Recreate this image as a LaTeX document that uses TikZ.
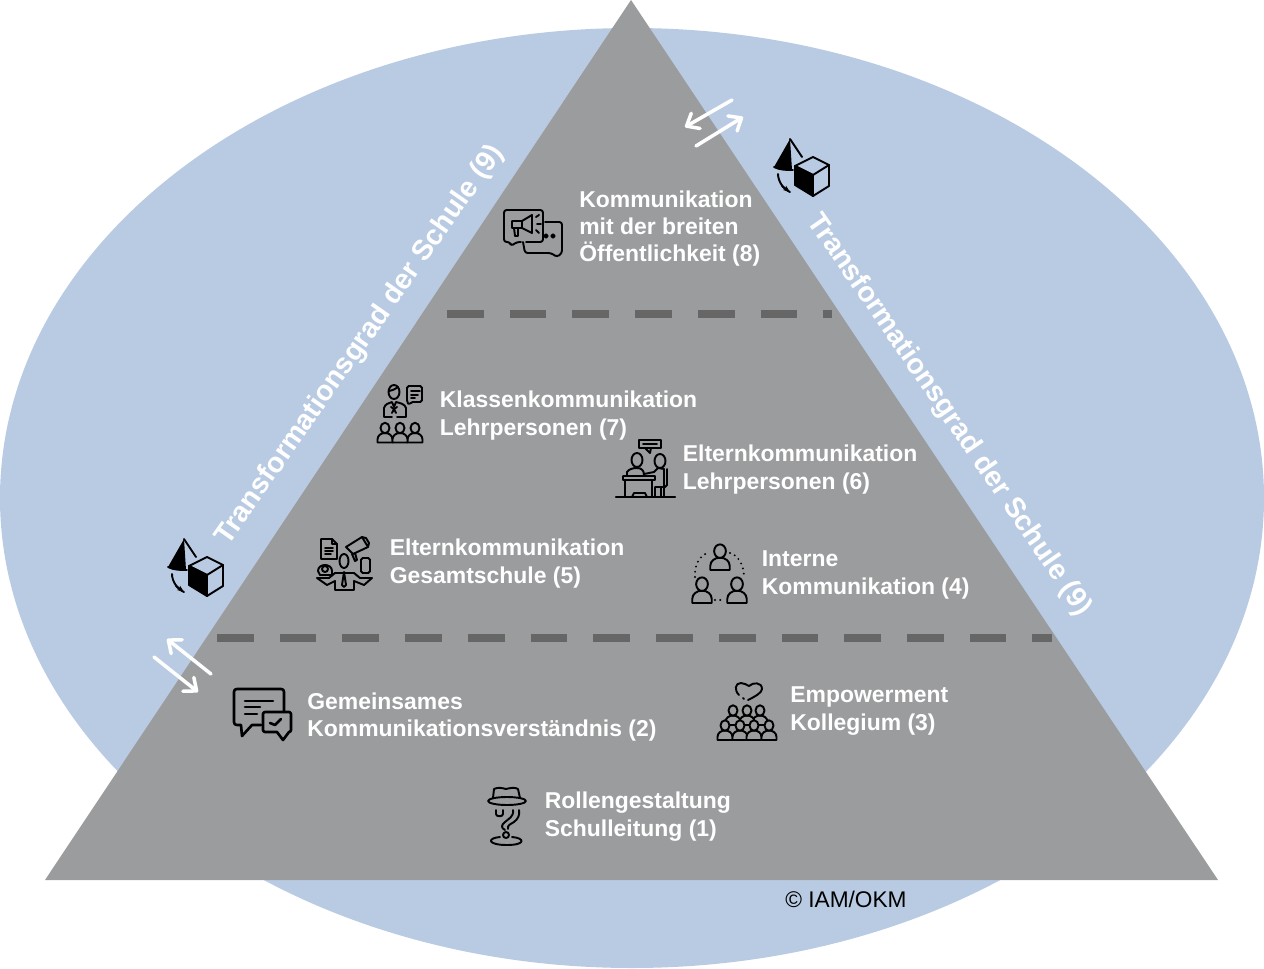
\documentclass[tikz,border=0pt]{standalone}
\usepackage{fontspec}
\setmainfont{Liberation Sans}
\usetikzlibrary{arrows.meta}
\definecolor{oval}{HTML}{B9CBE3}
\definecolor{pyramid}{HTML}{9B9C9E}
\definecolor{dashgray}{HTML}{666666}
\tikzset{
  label text/.style={text=white, font=\bfseries\fontsize{13.05}{15.6}\selectfont, align=left, anchor=west, inner sep=0pt},
  side text/.style={text=white, font=\bfseries\fontsize{16.2}{18}\selectfont, inner sep=0pt},
  level line/.style={dashgray, line width=4.6pt, dash pattern=on 20.9pt off 14.8pt},
  swap arrow/.style={white, line width=2pt, line cap=round, -{Straight Barb[length=6pt,width=10pt,round]}},
  icon/.style={draw=black, line width=1.1pt, line cap=round, line join=round},
  pics/bust/.style={code={
    \draw[icon,fill=pyramid] (-7.5,0) -- (-7.5,-3) .. controls (-7.5,-7) and (-4,-9.5) .. (0,-9.5)
      .. controls (4,-9.5) and (7.5,-7) .. (7.5,-3) -- (7.5,0) -- cycle;
    \draw[icon,fill=pyramid] (0,-14.5) circle [x radius=4.5, y radius=5.2];
  }},
  pics/shapes/.style={code={
    \fill (-12,-28) -- (-28,0) .. controls (-22,3) and (-16,3) .. (-10,3) -- cycle;
    \draw[icon] (-12,-28) -- (0,-10) (-28,0) .. controls (-22,3) and (-16,3) .. (-9,3) (-24,7) .. controls (-24,14) and (-19,22) .. (-12,25);
    \draw[icon,-{Stealth[length=4pt]}] (-20,19) -- (-12,25);
    \draw[icon] (11,-10) -- (27,-2) -- (27,19) -- (11,29) -- (11,8) -- (27,-2) (11,8) -- (-7,-1) -- (11,-10);
    \draw[icon,fill=black] (-7,-1) -- (11,8) -- (11,29) -- (-7,18) -- cycle;
  }},
  pics/megaphone/.style={code={
    \draw[icon,rounded corners=1.5pt] (-12,8) -- (-16,8) -- (-22,12) -- (-23,8) -- (-29,8) -- (-29,-24) -- (10,-24) -- (10,8) -- (-7,8);
    \draw[icon,rounded corners=1.5pt] (12,-12) -- (29,-12) -- (29,19) -- (24,23) -- (18,19) -- (-8,19) -- (-10,8);
    \draw[icon] (13,2) circle [radius=1.7] (20,2) circle [radius=1.7];
    \draw[icon] (-21,-13) -- (-11,-13) -- (-1,-19) -- (-1,-1) -- (-11,-6) -- (-21,-6) -- cycle;
    \draw[icon] (-19,-6) -- (-18,2) -- (-15,2) -- (-15,-6) (-11,-13) -- (-11,-6);
    \draw[icon] (3,-17) -- (6,-19) (4,-10) -- (8,-10) (3,-4) -- (6,-1);
  }},
  pics/teacher/.style={code={
    \draw[icon] (-6,-22) circle [x radius=5.5, y radius=7];
    \draw[icon] (-11,-23) .. controls (-7,-24) and (-4,-25) .. (-2,-27);
    \draw[icon] (-8,3) -- (-16,3) -- (-16,-6) .. controls (-15,-10) and (-11,-11) .. (-8,-12)
      -- (-6,-7) -- (-4,-12) .. controls (0,-11) and (5,-10) .. (6,-6) -- (6,3) -- (-3,3);
    \draw[icon] (-9,-7) -- (-6,-5) -- (-3,-7) (-6,-5) -- (-8,-1) (-6,-5) -- (-4,-1);
    \draw[icon,rounded corners=1pt] (7,-28) -- (22,-28) -- (22,-12) -- (11,-12) -- (9,-9) -- (7,-12) -- cycle;
    \draw[icon] (11,-23) -- (20,-23) (11,-19) -- (18,-19) (11,-16) -- (15,-16);
    \pic at (-15,28.5) {bust};
    \pic at (15,28.5) {bust};
    \pic at (0,28.5) {bust};
  }},
  pics/desk/.style={code={
    \draw[icon,line width=1.3pt] (-29,27) -- (30,27);
    \draw[icon] (-6,-30) rectangle (16,-22) (-2,-26) -- (12,-26);
    \draw[icon] (0,-22) -- (5,-17) -- (6,-22);
    \draw[icon] (-8,-10) circle [x radius=5.5, y radius=7] (15,-9) circle [x radius=5.5, y radius=7];
    \draw[icon] (-18,6) -- (-18,2) .. controls (-16,-1) and (-12,-2) .. (-8,-2) .. controls (-4,-2) and (-1,0) .. (-1,5);
    \draw[icon] (-1,4) -- (9,2) -- (13,-2) -- (19,-1) -- (19,17) -- (10,17) -- (10,27) (16,17) -- (16,27) (19,17) -- (19,27);
    \draw[icon] (22,-1) -- (22,15) -- (19,18);
    \draw[icon] (-22,6) rectangle (10,10) (-20,10) -- (-20,27) (7,10) -- (7,27) (-13,27) -- (-11,23) -- (0,23) -- (2,27);
  }},
  pics/office/.style={code={
    \draw[icon] (-23,-24) -- (-12,-24) -- (-7,-19) -- (-7,-4) -- (-23,-4) -- cycle (-12,-24) -- (-12,-19) -- (-7,-19);
    \draw[icon] (-19,-15) -- (-11,-15) (-19,-12) -- (-11,-12) (-19,-9) -- (-13,-9);
    \draw[icon] (2,-16) -- (18,-26) -- (24,-16) -- (9,-9) -- cycle (18,-26) -- (22,-25) -- (25,-20) -- (24,-16) (8,-9) -- (11,-2) -- (13,-3) -- (11,-10);
    \draw[icon,rounded corners=1pt] (17,-5) rectangle (26,10);
    \draw[icon] (0,-2) circle [x radius=4.5, y radius=7];
    \draw[icon] (-19,6) circle [radius=3];
    \draw[icon] (-26,8) .. controls (-26,0) and (-12,0) .. (-12,8) -- (-12,12) -- (-24,12) -- cycle;
    \draw[icon] (-27,15) -- (-15,15) -- (-9,10) -- (10,10) -- (16,15) -- (28,15) -- (20,22) -- (10,18) -- (10,27) -- (-9,27) -- (-9,18) -- (-17,22) -- cycle;
    \draw[icon] (0,9) -- (-2,22) -- (0,24) -- (2,22) -- cycle;
  }},
  pics/circle team/.style={code={
    \pic[scale=1.3] at (0,-8) {bust};
    \pic[scale=1.3] at (-18,25) {bust};
    \pic[scale=1.3] at (17,25) {bust};
    \draw[icon,line width=1.2pt,dash pattern=on 0pt off 3pt] (-25,-1) .. controls (-26,-13) and (-20,-23) .. (-12,-25);
    \draw[icon,line width=1.2pt,dash pattern=on 0pt off 3pt] (10,-25) .. controls (18,-23) and (24,-13) .. (24,-1);
    \draw[icon,line width=1.2pt,dash pattern=on 0pt off 3pt] (-5,22) -- (5,22);
  }},
  pics/chat check/.style={code={
    \draw[icon,line width=1.5pt] (-1,11) -- (-10,11) -- (-20,22) -- (-21,11) -- (-25,11)
      .. controls (-27,11) and (-28,10) .. (-28,8) -- (-28,-22) .. controls (-28,-24) and (-27,-25) .. (-25,-25)
      -- (19,-25) .. controls (21,-25) and (22,-24) .. (22,-22) -- (22,-2);
    \draw[icon,line width=1.5pt] (-17,-13) -- (11,-13) (-17,-7) -- (-2,-7) (-17,0) -- (-5,0);
    \draw[icon,line width=1.5pt] (3,-2) -- (27,-2) .. controls (28,-2) and (29,-1) .. (29,0) -- (29,16)
      .. controls (29,17) and (28,18) .. (27,18) -- (21,26) -- (15,18) -- (3,18) .. controls (2,18) and (1,17) .. (1,16)
      -- (1,0) .. controls (1,-1) and (2,-2) .. (3,-2);
    \draw[icon,line width=1.5pt] (8,9) -- (13,11) -- (19,5);
  }},
  pics/hat/.style={code={
    \draw[icon] (-14,-18) -- (-13,-27) .. controls (-9,-29) and (-5,-28) .. (-1,-27) .. controls (3,-28) and (8,-29) .. (11,-27) -- (13,-18);
    \draw[icon] (0,-15) ellipse [x radius=19, y radius=4];
    \draw[icon] (-11,-6) -- (-11,-2) .. controls (-11,1) and (-4,1) .. (-4,-2) -- (-4,-6);
    \draw[icon] (6,-6) .. controls (7,1) and (1,3) .. (-2,6) .. controls (-6,9) and (-6,12) .. (-2,14)
      (1,13) .. controls (0,9) and (4,8) .. (7,6) .. controls (11,3) and (13,-1) .. (12,-6);
    \draw[icon] (-1,19) circle [radius=3];
    \draw[icon] (-7,21) .. controls (-20,22) and (-20,29) .. (0,29) .. controls (19,29) and (18,22) .. (5,21);
  }},
  pics/crowd/.style={code={
    \draw[icon] (-8,-17) .. controls (-13,-22) and (-12,-29) .. (-6,-29) .. controls (-3,-29) and (0,-27) .. (2,-26)
      .. controls (6,-30) and (15,-30) .. (15,-23) .. controls (15,-19) and (7,-15) .. (1,-12);
    \draw[icon] (-4,-14) -- (-3,-13);
    \pic at (-14,13) {bust};
    \pic at (13,13) {bust};
    \pic at (0,13) {bust};
    \pic at (-22,28) {bust};
    \pic at (-7,28) {bust};
    \pic at (7,28) {bust};
    \pic at (22,28) {bust};
  }},
}
\begin{document}
\begin{tikzpicture}[x=0.02cm, y=-0.02cm]
	\useasboundingbox (0,0) rectangle (1264,969);
	% oval and pyramid
	\fill[oval] (632,498) ellipse [x radius=632, y radius=470];
	\fill[pyramid] (631,0) -- (1218,880) -- (45,880) -- cycle;
	\draw[level line] (447,314) -- (832,314);
	\draw[level line] (217,638) -- (1052,638);

	% side labels
	\node[side text, rotate=55] (sideleft) at (360,345) {Transformationsgrad der Schule (9)};
	\node[side text, rotate=-55.5] (sideright) at (949,415) {Transformationsgrad der Schule (9)};

	% arrows at the edges
	\coordinate (topa) at (732,100);
	\coordinate (topb) at (685,127);
	\coordinate (topc) at (696,146);
	\coordinate (topd) at (743,117);
	\coordinate (lowa) at (211,674);
	\coordinate (lowb) at (167,639);
	\coordinate (lowc) at (154,657);
	\coordinate (lowd) at (198,692);
	\draw[swap arrow] (topa) -- (topb);
	\draw[swap arrow] (topc) -- (topd);
	\draw[swap arrow] (lowa) -- (lowb);
	\draw[swap arrow] (lowc) -- (lowd);

	% level texts
	\node[label text] (public) at (579,228.5) {Kommunikation\\mit der breiten\\Öffentlichkeit (8)};
	\node[label text] (classes) at (439.5,415.5) {Klassenkommunikation\\Lehrpersonen (7)};
	\node[label text] (parentsteach) at (682.5,469.5) {Elternkommunikation\\Lehrpersonen (6)};
	\node[label text] (parentsall) at (389.5,563.5) {Elternkommunikation\\Gesamtschule (5)};
	\node[label text] (internal) at (761.5,575) {Interne\\Kommunikation (4)};
	\node[label text] (empower) at (790,711) {Empowerment\\Kollegium (3)};
	\node[label text] (shared) at (307,717) {Gemeinsames\\Kommunikationsverständnis (2)};
	\node[label text] (roles) at (544.5,816.5) {Rollengestaltung\\Schulleitung (1)};
	\node[text=black, font=\fontsize{12.9}{15.6}\selectfont, anchor=west, inner sep=0pt] (copyr) at (785,899) {© IAM/OKM};

	% icons
	\pic at (802,167) {shapes};
	\pic at (196,567) {shapes};
	\pic at (533,234) {megaphone};
	\pic at (400,414) {teacher};
	\pic at (645,470) {desk};
	\pic at (344,563) {office};
	\pic at (720,578) {circle team};
	\pic at (262,714) {chat check};
	\pic at (507,816) {hat};
	\pic at (747,712) {crowd};
\end{tikzpicture}
\end{document}
